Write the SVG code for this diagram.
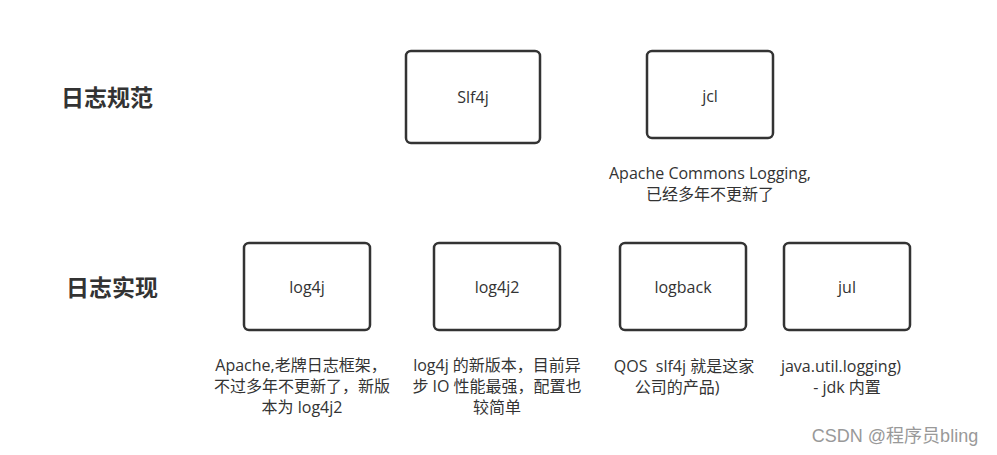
<svg xmlns="http://www.w3.org/2000/svg" width="997" height="455" viewBox="0 0 997 455">
<style>
.box{fill:#fff;stroke:#333;stroke-width:2.5}
.lbl{font-family:"Open Sans","Noto Sans CJK SC",sans-serif;font-size:16px;fill:#333;text-anchor:middle}
.note{font-family:"Open Sans","Noto Sans CJK SC",sans-serif;font-size:16px;fill:#333;text-anchor:middle}
.title{font-family:"Noto Sans CJK SC",sans-serif;font-size:23px;font-weight:bold;fill:#333;text-anchor:middle}
.wm{font-family:"Liberation Sans","Noto Sans CJK SC",sans-serif;font-size:18px;fill:#999;text-anchor:middle}
</style>
<rect width="997" height="455" fill="#fff"/>
<text class="title" x="107" y="106">日志规范</text>
<text class="title" x="112" y="296">日志实现</text>
<g id="slf4j"><rect class="box" x="406" y="51" width="134" height="92" rx="5"/><text class="lbl" x="473" y="103">Slf4j</text></g>
<g id="jcl"><rect class="box" x="647" y="51" width="126" height="87" rx="5"/><text class="lbl" x="710" y="102">jcl</text>
<text class="note" x="710" y="179">Apache Commons Logging,</text><text class="note" x="710" y="200">已经多年不更新了</text></g>
<g id="log4j"><rect class="box" x="244" y="243" width="126" height="87" rx="5"/><text class="lbl" x="307" y="293">log4j</text>
<text class="note" x="301" y="371">Apache,老牌日志框架，</text><text class="note" x="302" y="392">不过多年不更新了，新版</text><text class="note" x="302" y="413">本为 log4j2</text></g>
<g id="log4j2"><rect class="box" x="434" y="243" width="126" height="87" rx="5"/><text class="lbl" x="497" y="293">log4j2</text>
<text class="note" x="497" y="371">log4j 的新版本，目前异</text><text class="note" x="497" y="392">步 IO 性能最强，配置也</text><text class="note" x="497" y="413">较简单</text></g>
<g id="logback"><rect class="box" x="620" y="243" width="126" height="87" rx="5"/><text class="lbl" x="683" y="293">logback</text>
<text class="note" x="684" y="372" xml:space="preserve">QOS  slf4j 就是这家</text><text class="note" x="677" y="393">公司的产品)</text></g>
<g id="jul"><rect class="box" x="784" y="243" width="126" height="87" rx="5"/><text class="lbl" x="847" y="293">jul</text>
<text class="note" x="841" y="372">java.util.logging)</text><text class="note" x="847" y="393">- jdk 内置</text></g>
<g id="connectors"></g>
<text class="wm" x="895" y="442">CSDN @程序员bling</text>
</svg>
